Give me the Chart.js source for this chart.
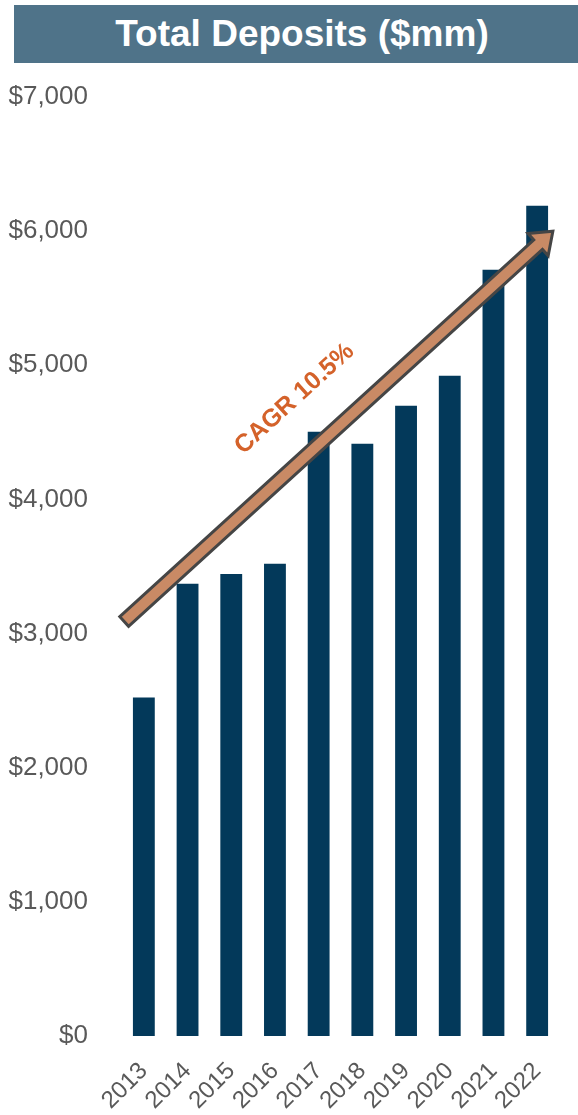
<!DOCTYPE html>
<html>
    <head>
        <meta charset="utf-8">
        <title>Total Deposits</title>
        <script src="https://cdn.jsdelivr.net/npm/chart.js@4.4.0/dist/chart.umd.min.js"></script>
        <style>
            body { margin: 0; background: #fff; }
            #wrap { position: relative; width: 578px; height: 1115px; }
            #banner {
                position: absolute; left: 14px; top: 5px; width: 564px; height: 58px;
                background: #4f7389; color: #fff;
                font: bold 37px "Liberation Sans", Arial, sans-serif;
                line-height: 58px; text-align: center; text-indent: 12px;
            }
        </style>
    </head>
    <body>
        <div id="wrap">
            <canvas id="chart" width="578" height="1115"></canvas>
            <div id="banner">Total Deposits ($mm)</div>
        </div>

        <script>
            const years = ['2013', '2014', '2015', '2016', '2017', '2018', '2019', '2020', '2021', '2022']
            const deposits = [2523, 3371, 3445, 3520, 4504, 4415, 4698, 4922, 5712, 6190]
            const yTicks = [0, 1000, 2000, 3000, 4000, 5000, 6000, 7000]
            const cagrLabel = 'CAGR 10.5%'
            // arrow ends in data units: [category index, value]
            const arrowFrom = [-0.45, 3090]
            const arrowTo = [9.36, 6000]
            const labelAt = [3.45, 4750]

            // draws the CAGR arrow + label, positioned through the scales
            const cagrArrow = {
                id: 'cagrArrow',
                afterDatasetsDraw(chart) {
                    const ctx = chart.ctx
                    const xs = chart.scales.x, ys = chart.scales.y
                    const x1 = xs.getPixelForValue(arrowFrom[0]), y1 = ys.getPixelForValue(arrowFrom[1])
                    const x2 = xs.getPixelForValue(arrowTo[0]), y2 = ys.getPixelForValue(arrowTo[1])
                    const ang = Math.atan2(y2 - y1, x2 - x1)
                    const len = Math.hypot(x2 - x1, y2 - y1)
                    const sw = 6.5, hw = 15, hl = 20

                    ctx.save()
                    ctx.translate(x1, y1)
                    ctx.rotate(ang)
                    ctx.beginPath()
                    ctx.moveTo(0, -sw)
                    ctx.lineTo(len - hl, -sw)
                    ctx.lineTo(len - hl, -hw)
                    ctx.lineTo(len, 0)
                    ctx.lineTo(len - hl, hw)
                    ctx.lineTo(len - hl, sw)
                    ctx.lineTo(0, sw)
                    ctx.closePath()
                    ctx.fillStyle = '#c98a65'
                    ctx.fill()
                    ctx.lineWidth = 3
                    ctx.strokeStyle = '#454545'
                    ctx.lineJoin = 'miter'
                    ctx.stroke()
                    ctx.restore()

                    // label above the arrow
                    ctx.save()
                    const tx = xs.getPixelForValue(labelAt[0]), ty = ys.getPixelForValue(labelAt[1])
                    ctx.translate(tx, ty)
                    ctx.rotate(ang)
                    ctx.font = 'bold 25px "Liberation Sans", Arial, sans-serif'
                    ctx.fillStyle = '#d4622a'
                    ctx.textAlign = 'center'
                    ctx.textBaseline = 'middle'
                    ctx.fillText(cagrLabel, 0, 0)
                    ctx.restore()
                }
            }

            const ctx = document.getElementById('chart').getContext('2d')
            const myChart = new Chart(ctx, {
                type: 'bar',
                data: {
                    labels: years,
                    datasets: [{
                        label: 'Total Deposits',
                        data: deposits,
                        backgroundColor: '#03395a',
                        barPercentage: 0.5,
                        categoryPercentage: 1
                    }]
                },
                options: {
                    responsive: false,
                    animation: false,
                    layout: { padding: { top: 97, right: 19, left: 0, bottom: 0 } },
                    plugins: { legend: { display: false }, tooltip: { enabled: false } },
                    scales: {
                        x: {
                            grid: { display: false, drawTicks: false },
                            border: { display: false },
                            ticks: {
                                color: '#595959',
                                font: { family: '"Liberation Sans", Arial, sans-serif', size: 24 },
                                minRotation: 45, maxRotation: 45,
                                autoSkip: false,
                                padding: 21
                            },
                            afterFit(scale) {
                                scale.height = 79
                                scale.paddingLeft = 0
                                scale.paddingRight = 0
                            }
                        },
                        y: {
                            min: 0, max: 7000,
                            grid: { display: false, drawTicks: false },
                            border: { display: false },
                            afterBuildTicks(scale) { scale.ticks = yTicks.map(v => ({ value: v })) },
                            ticks: {
                                color: '#595959',
                                font: { family: '"Liberation Sans", Arial, sans-serif', size: 26 },
                                padding: 34,
                                callback: function(value) {
                                    return '$' + value.toLocaleString('en-US')
                                }
                            },
                            afterFit(scale) { scale.width = 122 }
                        }
                    }
                },
                plugins: [cagrArrow]
            })
        </script>
    </body>
</html>
